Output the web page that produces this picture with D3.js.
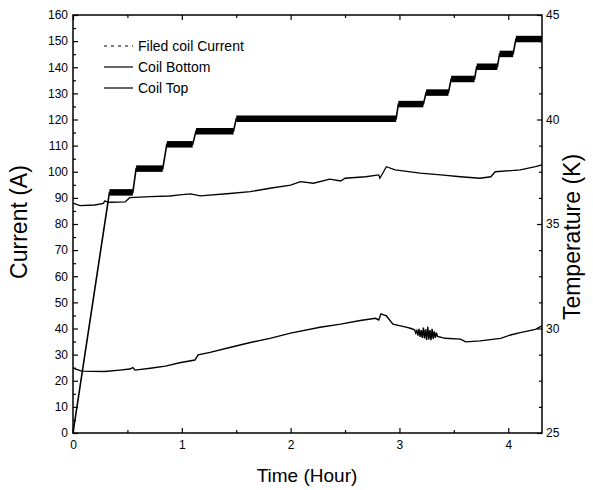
<!DOCTYPE html>
<html>
<head>
<meta charset="utf-8">
<script src="https://cdn.jsdelivr.net/npm/d3@7"></script>
<style>
  body { margin: 0; background: #fff; }
  svg { display: block; font-family: "Liberation Sans", Arial, sans-serif; }
</style>
</head>
<body>
<div id="chart"></div>
<script>
// current plateaus (hours, A)
const plateauStart = [0.335, 0.58, 0.862, 1.13, 1.50, 2.99, 3.245, 3.475, 3.71, 3.92, 4.07];
const plateauEnd   = [0.55, 0.825, 1.10, 1.475, 2.97, 3.22, 3.45, 3.69, 3.90, 4.045, 4.31];
const plateauLevel = [92.1, 101.2, 110.5, 115.5, 120.3, 125.9, 130.3, 135.5, 140.2, 145.1, 150.8];

// coil top temperature (K)
const topTime = [0, 0.064, 0.20, 0.28, 0.29, 0.34, 0.48, 0.52, 0.71, 0.89, 0.98, 1.08, 1.17, 1.44, 1.63, 1.81, 2.00, 2.09, 2.21, 2.36, 2.46, 2.50, 2.69, 2.81, 2.82, 2.88, 2.96, 3.19, 3.38, 3.56, 3.74, 3.84, 3.88, 4.11, 4.25, 4.31];
const topTemp = [36.00, 35.88, 35.91, 35.99, 36.10, 36.04, 36.06, 36.26, 36.31, 36.34, 36.39, 36.44, 36.35, 36.46, 36.55, 36.71, 36.86, 37.03, 36.95, 37.15, 37.06, 37.19, 37.26, 37.35, 37.19, 37.74, 37.59, 37.43, 37.35, 37.26, 37.19, 37.26, 37.50, 37.59, 37.74, 37.83];

// coil bottom temperature (K)
const bottomTime = [0, 0.08, 0.29, 0.43, 0.52, 0.55, 0.57, 0.71, 0.85, 0.98, 1.12, 1.15, 1.26, 1.44, 1.63, 1.81, 2.00, 2.27, 2.46, 2.64, 2.78, 2.81, 2.83, 2.88, 2.94, 3.05, 3.10,
  3.14, 3.15, 3.16, 3.17, 3.18, 3.19, 3.20, 3.21, 3.22, 3.23, 3.24, 3.25, 3.26, 3.27, 3.28, 3.29, 3.30, 3.31, 3.32, 3.33, 3.34, 3.35,
  3.42, 3.56, 3.61, 3.74, 3.93, 4.02, 4.11, 4.25, 4.31];
const bottomTemp = [28.10, 27.96, 27.94, 28.01, 28.06, 28.13, 28.01, 28.10, 28.20, 28.36, 28.49, 28.74, 28.86, 29.09, 29.33, 29.53, 29.78, 30.06, 30.21, 30.38, 30.49, 30.41, 30.70, 30.60, 30.21, 30.08, 30.01,
  29.94, 29.78, 29.90, 29.66, 29.98, 29.60, 29.92, 29.55, 30.05, 29.52, 29.96, 29.45, 30.08, 29.48, 29.92, 29.44, 29.98, 29.50, 29.86, 29.55, 29.80, 29.62,
  29.53, 29.49, 29.36, 29.41, 29.53, 29.69, 29.80, 29.96, 30.13];

const legendLabels = ["Filed coil Current", "Coil Bottom", "Coil Top"];
const timeTicks = [0, 1, 2, 3, 4];
const currentTicks = d3.range(0, 161, 10);
const tempTicks = [25, 30, 35, 40, 45];

const W = 593, H = 490;
const M = { left: 73, right: 51, top: 15, bottom: 57 };

const svg = d3.select("#chart").append("svg").attr("width", W).attr("height", H);

const x = d3.scaleLinear().domain([0, 4.31]).range([M.left, W - M.right]);
const yL = d3.scaleLinear().domain([0, 160]).range([H - M.bottom, M.top]);
const yR = d3.scaleLinear().domain([25, 45]).range([H - M.bottom, M.top]);

const styleAxis = g => {
  g.select(".domain").remove();
  g.selectAll("line").attr("stroke", "#000").attr("stroke-width", 1.2);
  g.selectAll("text").attr("fill", "#000").style("font-size", "12px");
};

// minor ticks
svg.append("g").attr("transform", `translate(0,${H - M.bottom})`)
   .call(d3.axisBottom(x).tickValues([0.5, 1.5, 2.5, 3.5]).tickSize(-3).tickFormat(""))
   .call(styleAxis);
svg.append("g").attr("transform", `translate(0,${M.top})`)
   .call(d3.axisTop(x).tickValues([0.5, 1.5, 2.5, 3.5]).tickSize(-3).tickFormat(""))
   .call(styleAxis);
svg.append("g").attr("transform", `translate(${M.left},0)`)
   .call(d3.axisLeft(yL).tickValues(d3.range(5, 160, 10)).tickSize(-3).tickFormat(""))
   .call(styleAxis);
svg.append("g").attr("transform", `translate(${W - M.right},0)`)
   .call(d3.axisRight(yR).tickValues(d3.range(25, 45, 1.25).filter(v => v % 5 !== 0)).tickSize(-3).tickFormat(""))
   .call(styleAxis);

// major ticks
svg.append("g").attr("transform", `translate(0,${H - M.bottom})`)
   .call(d3.axisBottom(x).tickValues(timeTicks).tickSize(-5).tickPadding(7).tickFormat(d3.format("d")))
   .call(styleAxis);
svg.append("g").attr("transform", `translate(0,${M.top})`)
   .call(d3.axisTop(x).tickValues(timeTicks).tickSize(-5).tickFormat(""))
   .call(styleAxis);
svg.append("g").attr("transform", `translate(${M.left},0)`)
   .call(d3.axisLeft(yL).tickValues(currentTicks).tickSize(-5).tickPadding(5))
   .call(styleAxis);
svg.append("g").attr("transform", `translate(${W - M.right},0)`)
   .call(d3.axisRight(yR).tickValues(tempTicks).tickSize(-5).tickPadding(4))
   .call(styleAxis);

// frame
svg.append("rect")
   .attr("x", M.left).attr("y", M.top)
   .attr("width", W - M.left - M.right).attr("height", H - M.top - M.bottom)
   .attr("fill", "none").attr("stroke", "#000").attr("stroke-width", 1.5);

// current: thin ramp line through plateau corners, thick band on each plateau
const currentPts = [[0, 0]];
plateauLevel.forEach((lv, i) => {
  currentPts.push([plateauStart[i], lv], [plateauEnd[i], lv]);
});
svg.append("path")
   .attr("d", d3.line().x(d => x(d[0])).y(d => yL(d[1]))(currentPts))
   .attr("fill", "none").attr("stroke", "#000").attr("stroke-width", 1.6);

svg.selectAll(".band")
   .data(plateauLevel)
   .join("line")
   .attr("class", "band")
   .attr("x1", (d, i) => x(plateauStart[i]))
   .attr("x2", (d, i) => x(plateauEnd[i]))
   .attr("y1", d => yL(d))
   .attr("y2", d => yL(d))
   .attr("stroke", "#000").attr("stroke-width", 6.5);

const tempLine = d3.line().x(d => x(d[0])).y(d => yR(d[1]));
svg.append("path")
   .attr("d", tempLine(topTime.map((t, i) => [t, topTemp[i]])))
   .attr("fill", "none").attr("stroke", "#000").attr("stroke-width", 1.3);
svg.append("path")
   .attr("d", tempLine(bottomTime.map((t, i) => [t, bottomTemp[i]])))
   .attr("fill", "none").attr("stroke", "#000").attr("stroke-width", 1.4);

// legend
const legend = svg.append("g");
legendLabels.forEach((label, i) => {
  const ly = 46 + i * 21;
  legend.append("line")
        .attr("x1", 104).attr("x2", 133).attr("y1", ly).attr("y2", ly)
        .attr("stroke", "#000").attr("stroke-width", 1.2)
        .attr("stroke-dasharray", i === 0 ? "3,4" : null);
  legend.append("text")
        .attr("x", 138).attr("y", ly).attr("dy", "0.35em")
        .style("font-size", "14px").text(label);
});

// axis titles
svg.append("text")
   .attr("x", 307).attr("y", 482)
   .attr("text-anchor", "middle")
   .style("font-size", "19px").text("Time (Hour)");
svg.append("text")
   .attr("transform", "translate(27,222) rotate(-90)")
   .attr("text-anchor", "middle")
   .style("font-size", "23px").text("Current (A)");
svg.append("text")
   .attr("transform", "translate(580,237) rotate(-90)")
   .attr("text-anchor", "middle")
   .style("font-size", "23px").text("Temperature (K)");
</script>
</body>
</html>
